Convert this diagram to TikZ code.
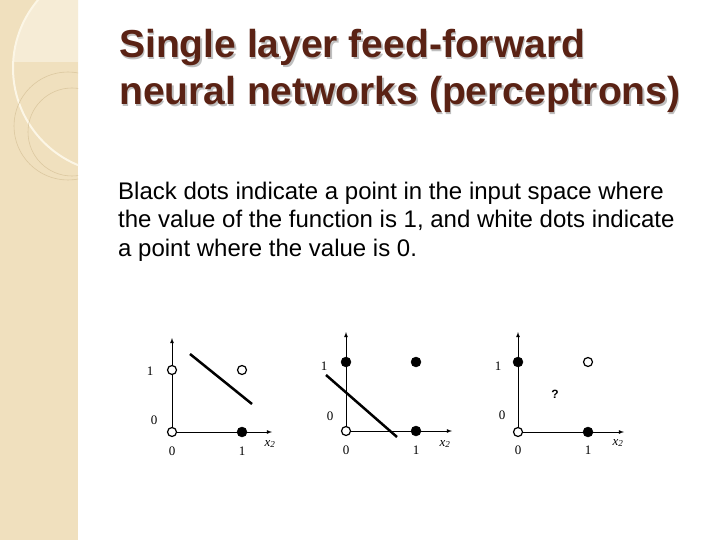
\documentclass[tikz,border=0pt]{standalone}
\usepackage{fontspec}
\setmainfont{Liberation Sans}
\newfontfamily\labfont{Liberation Serif}
\begin{document}
\begin{tikzpicture}[x=1pt,y=-1pt,
  wdot/.style={circle,draw=black,fill=white,line width=1.2pt,inner sep=0pt,minimum size=9pt},
  bdot/.style={circle,draw=black,fill=black,inner sep=0pt,minimum size=10pt},
  ax/.style={-latex,line width=0.8pt},
  sep/.style={line width=2.5pt},
  title/.style={anchor=base west,font=\bfseries\fontsize{39}{39}\selectfont,inner sep=0},
  lab/.style={font=\labfont\fontsize{13}{13}\selectfont}]
\useasboundingbox (0,0) rectangle (720,540);
\fill[white] (0,0) rectangle (720,540);
\fill[color={rgb,255:red,240;green,224;blue,190}] (0,0) rectangle (78,540);
\begin{scope}
\clip (0,0) rectangle (78,540);
\fill[color={rgb,255:red,246;green,236;blue,214}] (118,68) circle (105);
\fill[color={rgb,255:red,240;green,224;blue,190}] (0,62) rectangle (78,200);
\draw[color={rgb,255:red,252;green,246;blue,230},line width=2pt] (118,68) circle (105);
\draw[color={rgb,255:red,220;green,200;blue,160},line width=0.6pt] (68,126) circle (54);
\draw[color={rgb,255:red,220;green,200;blue,160},line width=0.6pt] (72,132) circle (44);
\end{scope}
\node[title,text=black!25] at (120.5,59.5) {Single layer feed-forward};
\node[title,text=black!25] at (120.5,106.5) {neural networks (perceptrons)};
\node (t1)[title,text={rgb,255:red,90;green,34;blue,20}] at (119,58) {Single layer feed-forward};
\node (t2)[title,text={rgb,255:red,90;green,34;blue,20}] at (119,105) {neural networks (perceptrons)};
\node (body)[anchor=base west,align=left,inner sep=0,font=\fontsize{24}{28.5}\selectfont] at (118,256) {Black dots indicate a point in the input space where\\the value of the function is 1, and white dots indicate\\a point where the value is 0.};
% plot 1
\coordinate (o1) at (172,432); \coordinate (x1) at (272,432); \coordinate (y1) at (172,338);
\draw[ax] (o1) -- (x1); \draw[ax] (o1) -- (y1);
\draw[sep] (190,354) coordinate (s1a) -- (252,404) coordinate (s1b);
\node[wdot] (a00) at (o1) {}; \node[bdot] (a10) at (242,432) {};
\node[wdot] (a01) at (172,370) {}; \node[wdot] (a11) at (242,370) {};
\node[lab] (l1a) at (150,371) {1}; \node[lab] (l1b) at (154,420) {0};
\node[lab] (l1c) at (172,451) {0}; \node[lab] (l1d) at (242,451) {1};
\node[lab] (l1e) at (270,444) {\itshape x\textsubscript{2}};
% plot 2
\coordinate (o2) at (346,431); \coordinate (x2) at (452,431); \coordinate (y2) at (346,332);
\draw[ax] (o2) -- (x2); \draw[ax] (o2) -- (y2);
\draw[sep] (326,375) coordinate (s2a) -- (397,437) coordinate (s2b);
\node[wdot] (b00) at (o2) {}; \node[bdot] (b10) at (416,431) {};
\node[bdot] (b01) at (346,362) {}; \node[bdot] (b11) at (416,362) {};
\node[lab] (l2a) at (324,366) {1}; \node[lab] (l2b) at (330,416) {0};
\node[lab] (l2c) at (346,450) {0}; \node[lab] (l2d) at (416,450) {1};
\node[lab] (l2e) at (445,444) {\itshape x\textsubscript{2}};
% plot 3
\coordinate (o3) at (518,432); \coordinate (x3) at (624,432); \coordinate (y3) at (518,332);
\draw[ax] (o3) -- (x3); \draw[ax] (o3) -- (y3);
\node[wdot] (c00) at (o3) {}; \node[bdot] (c10) at (588,432) {};
\node[bdot] (c01) at (518,362) {}; \node[wdot] (c11) at (588,362) {};
\node[font=\bfseries\fontsize{12}{12}\selectfont] (q) at (555,394) {?};
\node[lab] (l3a) at (498,366) {1}; \node[lab] (l3b) at (502,415) {0};
\node[lab] (l3c) at (518,450) {0}; \node[lab] (l3d) at (588,450) {1};
\node[lab] (l3e) at (618,443) {\itshape x\textsubscript{2}};
\end{tikzpicture}
\end{document}
